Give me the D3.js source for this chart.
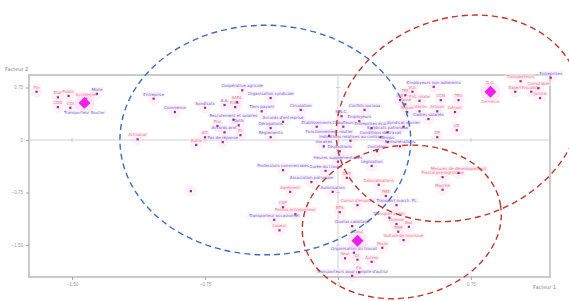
<!DOCTYPE html>
<html>
<head>
<meta charset="utf-8">
<script src="https://cdn.jsdelivr.net/npm/d3@7"></script>
<style>
  body { margin: 0; background: #fff; }
  svg { display: block; font-family: "DejaVu Sans", sans-serif; }
</style>
</head>
<body>
<div id="chart"></div>
<script>
// factor map: small points (label, factor 1, factor 2, kind b=blue / r=red)
var labels = ["Fin", "Etat", "Public", "Mixte", "Accidentel", "CDD", "CDI",
  "Entreprise", "Commerce", "Artisanat", "Syndicats", "Coopérative agricole", "Organisation syndicale",
  "S.A.", "SARL", "EURL", "Tiers payant", "Accords d'entreprise", "Recrutement et salaires", "Tarifs",
  "Prix", "Accords prof.", "Aff.", "PL", "Dérogations", "Règlements", "Pas de réponse", "Autre", "",
  "Circulation", "Conflits sociaux", "S.N.C.", "Établissements", "Chauffeurs", "Employeurs", "Entreprises école",
  "Syndicat ouvrier", "Fonctionnement routier", "Indications relatives au contrat", "Conditions de travail",
  "Temps", "Horaires", "Dispositions", "Contrôles", "Rémunérations", "Heures supplémentaires", "Législation",
  "Durée du travail", "Association patronale", "Professions commerciales", "Agrément", "Délocalisations", "DUT",
  "Autorisation", "CAP", "Permis entrepreneur", "Transporteur occasionnel", "Loueur", "Quotas cabotage", "BTS",
  "PME", "Cumul d'emplois", "Transport march. PL", "Transport public", "Licence", "Bac", "TRM",
  "Voiture de tourisme", "Poste", "Organisation du travail", "Seul", "Gr.", "Autres", "Ex.",
  "Transporteurs pour compte d'autrui", "Prestataire logistique", "Mesures de développement", "Marché",
  "Employeurs non adhérents", "TPE", "VUL", "GIE", "Ent. mixte", "CCN", "TRV", "Intérim", "Artisan", "Gérant",
  "Cadres salariés", "Syndicats patronaux", "CE", "DP", "Pause", "Repos",
  "Transporteurs", "Comptable", "Expert", "Fiscaliste", "Juriste", "Entreprises"];
var factor1 = [-1.70, -1.58, -1.52, -1.36, -1.42, -1.58, -1.51,
  -1.04, -0.92, -1.13, -0.75, -0.54, -0.38,
  -0.64, -0.57, -0.58, -0.43, -0.31, -0.59, -0.56,
  -0.68, -0.64, -0.75, -0.55, -0.38, -0.38, -0.65, -0.80, -0.83,
  -0.21, 0.15, 0.02, -0.12, 0.03, 0.12, 0.19,
  0.37, -0.05, 0.07, 0.24,
  0.28, -0.08, 0.01, 0.22, 0.35, 0.00, 0.19,
  -0.07, -0.15, -0.31, -0.27, 0.23, 0.05,
  -0.03, -0.31, -0.24, -0.36, -0.33, 0.08, 0.01,
  0.27, 0.11, 0.33, 0.29, 0.33, 0.40, 0.34,
  0.37, 0.25, 0.09, 0.04, 0.11, 0.19, 0.12,
  0.08, 0.59, 0.68, 0.59,
  0.54, 0.38, 0.42, 0.35, 0.46, 0.58, 0.68, 0.46, 0.56, 0.66,
  0.51, 0.28, 0.67, 0.56, 0.38, 0.39,
  1.03, 1.13, 1.00, 1.09, 1.14, 1.20];
var factor2 = [0.69, 0.61, 0.63, 0.66, 0.59, 0.47, 0.46,
  0.59, 0.40, 0.01, 0.46, 0.71, 0.60,
  0.50, 0.54, 0.47, 0.41, 0.26, 0.29, 0.21,
  0.20, 0.11, 0.04, 0.07, 0.17, 0.04, -0.03, -0.07, -0.73,
  0.43, 0.43, 0.34, 0.19, 0.19, 0.27, 0.17,
  0.19, 0.06, -0.01, 0.04,
  -0.03, -0.09, -0.16, -0.16, -0.09, -0.31, -0.37,
  -0.44, -0.60, -0.43, -0.74, -0.64, -0.54,
  -0.74, -0.96, -1.06, -1.14, -1.29, -1.23, -1.03,
  -0.80, -0.93, -0.93, -1.11, -1.20, -1.24, -1.31,
  -1.43, -1.54, -1.61, -1.69, -1.71, -1.74, -1.89,
  -1.94, -0.53, -0.47, -0.71,
  0.76, 0.64, 0.69, 0.57, 0.56, 0.57, 0.57, 0.41, 0.41, 0.40,
  0.30, 0.11, 0.14, 0.04, 0.51, 0.40,
  0.84, 0.74, 0.69, 0.69, 0.60, 0.89];
var kinds = ["r", "r", "r", "b", "r", "r", "r",
  "b", "b", "r", "b", "b", "b",
  "b", "r", "r", "b", "b", "b", "b",
  "r", "b", "r", "r", "b", "b", "b", "r", "r",
  "b", "b", "b", "b", "b", "b", "b",
  "b", "b", "b", "b",
  "b", "b", "b", "b", "b", "b", "b",
  "b", "b", "b", "r", "r", "r",
  "b", "r", "r", "b", "r", "b", "r",
  "r", "r", "b", "r", "r", "r", "r",
  "r", "r", "b", "r", "r", "r", "r",
  "b", "r", "r", "r",
  "b", "r", "r", "r", "r", "r", "r", "r", "r", "r",
  "b", "b", "r", "r", "r", "r",
  "r", "r", "r", "r", "r", "b"];

// the three large diamonds (group centres)
var bigLabels = ["Transporteur Routier", "Demeure", ""];
var bigTop = ["", "D.G.", "Statut"];
var bigF1 = [-1.43, 0.86, 0.11];
var bigF2 = [0.53, 0.69, -1.44];
var bigKinds = ["b", "r", "r"];

// hand drawn ellipses (centre, radii in factor units)
var ellCx = [-0.41, 0.68, 0.36];
var ellCy = [0.00, 0.31, -1.17];
var ellRx = [0.82, 0.705, 0.565];
var ellRy = [1.64, 1.43, 1.085];
var ellRot = [0, -20, -10];
var ellColor = ["#3a6cc0", "#c0342c", "#c0342c"];

var ticks = [-1.5, -0.75, 0, 0.75];

var svgWidth = 569, svgHeight = 301;
var margin = { top: 75, right: 19, bottom: 24, left: 29 };
var width = svgWidth - margin.left - margin.right;
var height = svgHeight - margin.top - margin.bottom;

var svg = d3.select("#chart").append("svg")
  .attr("width", svgWidth)
  .attr("height", svgHeight);

var x = d3.scaleLinear().domain([-1.743, 1.196]).range([margin.left, margin.left + width]);
var y = d3.scaleLinear().domain([0.929, -1.957]).range([margin.top, margin.top + height]);

var fmt = function (d) { return d === 0 ? "0" : d3.format(".2f")(d); };
var tickColor = "#a8a8a8";

// frame
svg.append("rect")
  .attr("x", margin.left).attr("y", margin.top)
  .attr("width", width).attr("height", height)
  .attr("fill", "none").attr("stroke", "#cbcbcb").attr("stroke-width", 2);

// zero lines
svg.append("line")
  .attr("x1", margin.left).attr("x2", margin.left + width)
  .attr("y1", y(0)).attr("y2", y(0))
  .attr("stroke", "#d2d2d2").attr("stroke-width", 1);
svg.append("line")
  .attr("x1", x(0)).attr("x2", x(0))
  .attr("y1", margin.top).attr("y2", margin.top + height)
  .attr("stroke", "#d2d2d2").attr("stroke-width", 1);

// axes
var xAxis = d3.axisBottom(x).tickValues(ticks).tickFormat(fmt).tickSize(3);
var yAxis = d3.axisLeft(y).tickValues(ticks).tickFormat(fmt).tickSize(3);
var gx = svg.append("g").attr("transform", `translate(0, ${margin.top + height})`).call(xAxis);
var gy = svg.append("g").attr("transform", `translate(${margin.left}, 0)`).call(yAxis);
[gx, gy].forEach(function (g) {
  g.select(".domain").remove();
  g.selectAll("line").attr("stroke", tickColor);
  g.selectAll("text").attr("fill", "#9a9a9a").attr("font-size", 4.5);
});

// small ticks along the zero lines
svg.selectAll(".zt").data(ticks.filter(d => d !== 0)).enter().append("line")
  .attr("x1", d => x(d)).attr("x2", d => x(d))
  .attr("y1", y(0) - 2).attr("y2", y(0) + 2)
  .attr("stroke", "#cccccc");
svg.selectAll(".zty").data(ticks.filter(d => d !== 0)).enter().append("line")
  .attr("x1", x(0) - 2).attr("x2", x(0) + 2)
  .attr("y1", d => y(d)).attr("y2", d => y(d))
  .attr("stroke", "#cccccc");

svg.append("text").attr("x", 5).attr("y", 71)
  .attr("font-size", 5).attr("fill", "#808080").text("Facteur 2");
svg.append("text").attr("x", 533).attr("y", 289)
  .attr("font-size", 5).attr("fill", "#808080").text("Facteur 1");

var blue = "#6464dc", red = "#ee7676";
var points = labels.map(function (l, i) {
  return { label: l, f1: factor1[i], f2: factor2[i], kind: kinds[i] };
});

// pink halos
svg.append("g").selectAll("circle").data(points).enter().append("circle")
  .attr("cx", d => x(d.f1)).attr("cy", d => y(d.f2)).attr("r", 6)
  .attr("fill", "#f7c8ec").attr("opacity", 0.25);

// label backgrounds + labels
var lab = svg.append("g").selectAll("g").data(points).enter().append("g");
lab.append("text")
  .attr("x", d => x(d.f1)).attr("y", d => y(d.f2) - 3)
  .attr("text-anchor", "middle")
  .attr("font-size", 4)
  .attr("fill", d => d.kind === "b" ? blue : red)
  .text(d => d.label)
  .each(function () {
    var b = this.getBBox();
    if (b.width > 0) {
      d3.select(this.parentNode).insert("rect", "text")
        .attr("x", b.x - 1).attr("y", b.y)
        .attr("width", b.width + 2).attr("height", b.height)
        .attr("fill", "#fcebf6").attr("opacity", 0.7);
    }
  });

// markers
svg.append("g").selectAll("rect").data(points).enter().append("rect")
  .attr("x", d => x(d.f1) - 1.1).attr("y", d => y(d.f2) - 1.1)
  .attr("width", 2.2).attr("height", 2.2)
  .attr("fill", "#93367f");

// big diamonds
var big = bigLabels.map(function (l, i) {
  return { label: l, top: bigTop[i], f1: bigF1[i], f2: bigF2[i], kind: bigKinds[i] };
});
svg.append("g").selectAll("circle").data(big).enter().append("circle")
  .attr("cx", d => x(d.f1)).attr("cy", d => y(d.f2)).attr("r", 10)
  .attr("fill", "#f6c6ee").attr("opacity", 0.4);
svg.append("g").selectAll("path").data(big).enter().append("path")
  .attr("d", d3.symbol().type(d3.symbolDiamond2).size(90))
  .attr("transform", d => `translate(${x(d.f1)}, ${y(d.f2)})`)
  .attr("fill", "#f01ee6");
svg.append("g").selectAll("text").data(big).enter().append("text")
  .attr("x", d => x(d.f1)).attr("y", d => y(d.f2) + 11)
  .attr("text-anchor", "middle").attr("font-size", 4)
  .attr("fill", d => d.kind === "b" ? blue : red)
  .text(d => d.label);
svg.append("g").selectAll("text").data(big).enter().append("text")
  .attr("x", d => x(d.f1)).attr("y", d => y(d.f2) - 8)
  .attr("text-anchor", "middle").attr("font-size", 4)
  .attr("fill", red)
  .text(d => d.top);

// ellipses
var ells = ellCx.map(function (c, i) {
  return { cx: c, cy: ellCy[i], rx: ellRx[i], ry: ellRy[i], rot: ellRot[i], color: ellColor[i] };
});
svg.append("g").selectAll("ellipse").data(ells).enter().append("ellipse")
  .attr("transform", d => `translate(${x(d.cx)}, ${y(d.cy)}) rotate(${d.rot})`)
  .attr("rx", d => x(d.rx) - x(0))
  .attr("ry", d => y(0) - y(d.ry))
  .attr("fill", "none")
  .attr("stroke", d => d.color)
  .attr("stroke-width", 1.4)
  .attr("stroke-dasharray", "6,4");
</script>
</body>
</html>
